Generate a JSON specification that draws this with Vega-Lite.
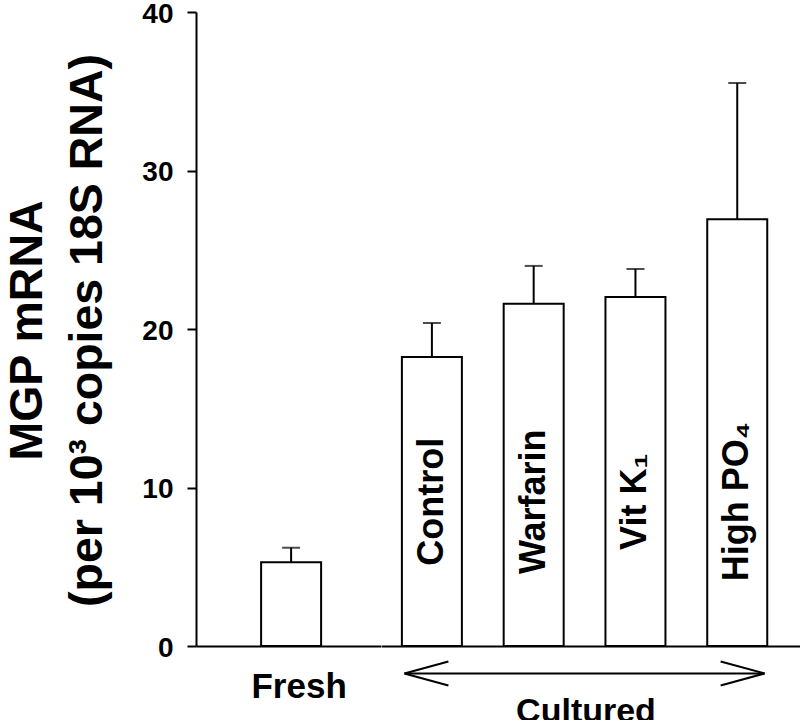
{
  "$schema": "https://vega.github.io/schema/vega-lite/v6.json",
  "padding": {"left": 4, "top": 0, "right": 0, "bottom": 0},
  "spacing": 0,
  "background": "white",
  "config": {
    "view": {"stroke": null},
    "font": "Liberation Sans",
    "axis": {"domainColor": "black", "domainWidth": 2, "tickColor": "black", "tickWidth": 2, "labelColor": "black", "titleColor": "black", "grid": false}
  },
  "datasets": {
    "bars": [
      {"group": "Fresh", "treatment": "Fresh", "label": "", "mean": 5.28, "upper": 6.2},
      {"group": "Cultured", "treatment": "Control", "label": "Control", "mean": 18.24, "upper": 20.38},
      {"group": "Cultured", "treatment": "Warfarin", "label": "Warfarin", "mean": 21.6, "upper": 23.98},
      {"group": "Cultured", "treatment": "Vit K1", "label": "Vit K₁", "mean": 22.02, "upper": 23.79},
      {"group": "Cultured", "treatment": "High PO4", "label": "High PO₄", "mean": 26.92, "upper": 35.52}
    ]
  },
  "hconcat": [
    {
      "width": 184.5,
      "height": 634,
      "data": {"name": "bars"},
      "transform": [{"filter": "datum.group === 'Fresh'"}],
      "encoding": {
        "x": {
          "field": "treatment", "type": "nominal",
          "scale": {"paddingInner": 0, "paddingOuter": 0.5, "align": 0.531},
          "axis": {"labelFontSize": 35, "labelFontWeight": "bold", "labelAngle": 0, "ticks": false, "tickSize": 0, "labelPadding": 23, "labelOffset": 8, "title": null}
        }
      },
      "layer": [
        {
          "mark": {"type": "bar", "fill": "white", "stroke": "black", "strokeWidth": 2, "size": 60},
          "encoding": {
            "y": {
              "field": "mean", "type": "quantitative",
              "scale": {"domain": [0, 40]},
              "title": ["MGP mRNA", "(per 10³ copies 18S RNA)"],
              "axis": {
                "values": [0, 10, 20, 30, 40], "tickSize": 9, "labelFontSize": 28, "labelFontWeight": "bold", "labelPadding": 14, "labelOffset": 2,
                "titleFontSize": 46.5, "titleFontWeight": "bold", "titleLineHeight": 60, "titleAngle": 270,
                "titleAlign": "center", "titleBaseline": "alphabetic", "titleX": -155, "titleY": 318
              }
            }
          }
        },
        {
          "mark": {"type": "rule", "stroke": "black", "strokeWidth": 2},
          "encoding": {
            "y": {"field": "mean", "type": "quantitative", "title": ["MGP mRNA", "(per 10³ copies 18S RNA)"]},
            "y2": {"field": "upper"}
          }
        },
        {
          "mark": {"type": "tick", "color": "black", "thickness": 2, "size": 18, "orient": "horizontal"},
          "encoding": {
            "y": {"field": "upper", "type": "quantitative", "title": ["MGP mRNA", "(per 10³ copies 18S RNA)"]}
          }
        }
      ]
    },
    {
      "width": 419.35,
      "height": 634,
      "encoding": {
        "x": {
          "field": "treatment", "type": "nominal",
          "scale": {"domain": ["Control", "Warfarin", "Vit K1", "High PO4"], "paddingInner": 0, "paddingOuter": 0.06, "align": 0},
          "axis": {"labels": false, "ticks": false, "tickSize": 0, "title": "Cultured", "titleFontSize": 34, "titleFontWeight": "bold", "titleAlign": "center", "titleBaseline": "top", "titleX": 204.5, "titleY": 48.5}
        }
      },
      "layer": [
        {
          "data": {"name": "bars"},
          "transform": [{"filter": "datum.group === 'Cultured'"}],
          "mark": {"type": "bar", "fill": "white", "stroke": "black", "strokeWidth": 2, "size": 60},
          "encoding": {
            "y": {"field": "mean", "type": "quantitative", "scale": {"domain": [0, 40]}, "axis": null}
          }
        },
        {
          "data": {"name": "bars"},
          "transform": [{"filter": "datum.group === 'Cultured'"}],
          "mark": {"type": "rule", "stroke": "black", "strokeWidth": 2},
          "encoding": {
            "y": {"field": "mean", "type": "quantitative", "axis": null},
            "y2": {"field": "upper"}
          }
        },
        {
          "data": {"name": "bars"},
          "transform": [{"filter": "datum.group === 'Cultured'"}],
          "mark": {"type": "tick", "color": "black", "thickness": 2, "size": 18, "orient": "horizontal"},
          "encoding": {
            "y": {"field": "upper", "type": "quantitative", "axis": null}
          }
        },
        {
          "data": {"name": "bars"},
          "transform": [{"filter": "datum.group === 'Cultured'"}],
          "mark": {"type": "text", "angle": 270, "align": "center", "baseline": "middle", "fontSize": 36, "fontWeight": "bold", "color": "black"},
          "encoding": {
            "y": {"datum": 9.1, "type": "quantitative", "axis": null},
            "text": {"field": "label"}
          }
        },
        {
          "data": {"values": [{}]},
          "mark": {"type": "rule", "stroke": "black", "strokeWidth": 2},
          "encoding": {
            "x": {"datum": "Control", "type": "nominal", "bandPosition": 0.23},
            "x2": {"datum": "High PO4", "bandPosition": 0.769},
            "y": {"datum": -1.73, "type": "quantitative", "axis": null}
          }
        },
        {
          "data": {"values": [{}]},
          "mark": {"type": "point", "shape": "M0,0L1,-0.2727M0,0L1,0.2727", "size": 7744, "filled": false, "stroke": "black", "strokeWidth": 2, "opacity": 1},
          "encoding": {
            "x": {"datum": "Control", "type": "nominal", "bandPosition": 0.23},
            "y": {"datum": -1.73, "type": "quantitative", "axis": null}
          }
        },
        {
          "data": {"values": [{}]},
          "mark": {"type": "point", "shape": "M0,0L-1,-0.2727M0,0L-1,0.2727", "size": 7744, "filled": false, "stroke": "black", "strokeWidth": 2, "opacity": 1},
          "encoding": {
            "x": {"datum": "High PO4", "type": "nominal", "bandPosition": 0.769},
            "y": {"datum": -1.73, "type": "quantitative", "axis": null}
          }
        }
      ]
    }
  ]
}
